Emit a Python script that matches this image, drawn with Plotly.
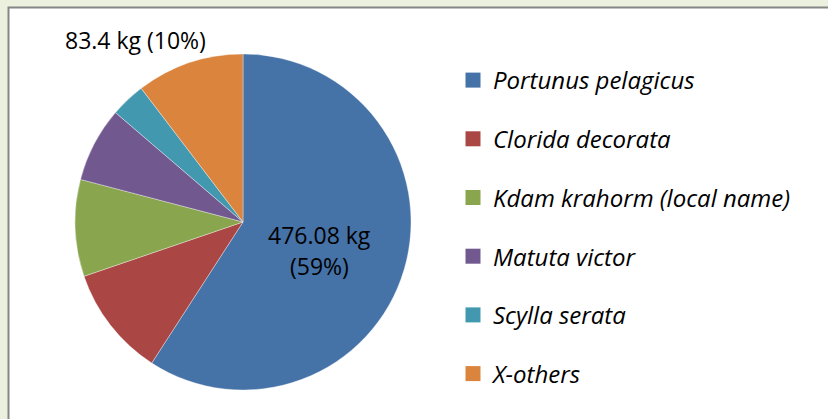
import plotly.graph_objects as go

species = ["Portunus pelagicus", "Clorida decorata", "Kdam krahorm (local name)",
           "Matuta victor", "Scylla serata", "X-others"]
weights_kg = [476.08, 85.5, 75.0, 58.0, 27.0, 83.4]
colors = ["#4572A7", "#AA4643", "#89A54E", "#71588F", "#4198AF", "#DB843D"]

W, H = 828, 419
total = sum(weights_kg)
FONT = "Open Sans"

fig = go.Figure()
fig.add_trace(go.Pie(
    labels=species, values=weights_kg, sort=False, direction="clockwise", rotation=0,
    marker=dict(colors=colors, line=dict(color="rgba(255,255,255,0.6)", width=0.6)),
    textinfo="none", showlegend=False, hoverinfo="label+value+percent",
    domain=dict(x=[(243 - 168) / W, (243 + 168) / W], y=[1 - 390 / H, 1 - 54 / H]),
))

# legend entries
for name, col in zip(species, colors):
    fig.add_trace(go.Scatter(x=[None], y=[None], mode="markers", name=name,
                             legendgroup=name,
                             marker=dict(symbol="square", size=15, color=col)))

def kg(i):
    return f"{weights_kg[i]:g} kg"

def pct(i):
    return f"({round(100 * weights_kg[i] / total):.0f}%)"

lab_font = dict(family=FONT, size=23, color="#000")
for txt, x, y in [(kg(0), 319, 235), (pct(0), 319, 266), (f"{kg(5)} {pct(5)}", 135, 40)]:
    fig.add_annotation(x=x / W, y=1 - y / H, xref="paper", yref="paper",
                       xanchor="center", yanchor="middle",
                       text=txt, showarrow=False, font=lab_font)

fig.add_shape(type="rect", xref="paper", yref="paper", layer="below",
              x0=8.5 / W, x1=1.05, y0=-0.05, y1=1 - 7.5 / H,
              fillcolor="white", line=dict(color="#868686", width=2))

fig.update_layout(
    width=W, height=H, margin=dict(l=0, r=0, t=0, b=0),
    paper_bgcolor="#EBF1DE", plot_bgcolor="rgba(0,0,0,0)",
    xaxis=dict(visible=False), yaxis=dict(visible=False),
    legend=dict(x=453 / W, y=1 - 58 / H, xanchor="left", yanchor="top",
                tracegroupgap=24.5, bgcolor="rgba(0,0,0,0)",
                font=dict(family=FONT, size=24, color="#000", style="italic")),
)
fig.write_html("out.html", config={"displayModeBar": False},
               post_script="document.body.style.margin='0';document.body.style.background='#EBF1DE';")
